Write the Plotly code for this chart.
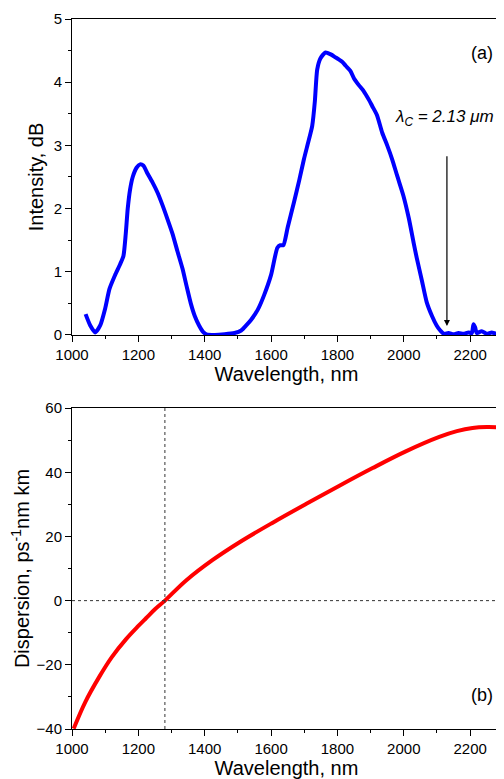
import plotly.graph_objs as go

# (a) transmission spectrum
wl_a = [1041, 1055, 1070, 1085, 1100, 1113, 1130, 1145, 1155, 1162, 1168, 1175, 1183,
        1195, 1205, 1215, 1228, 1243, 1258, 1273, 1288, 1303, 1318, 1333, 1345, 1358,
        1370, 1383, 1395, 1405, 1430, 1460, 1490, 1510, 1525, 1540, 1560, 1579, 1600,
        1619, 1628, 1637, 1650, 1669, 1685, 1699, 1712, 1724, 1732, 1739, 1749, 1764,
        1780, 1795, 1804, 1815, 1825, 1839, 1850, 1865, 1879, 1895, 1905, 1919, 1935,
        1950, 1965, 1980, 1999, 2015, 2030, 2039, 2055, 2069, 2085, 2099, 2110, 2120,
        2135, 2150, 2165, 2180, 2195, 2205, 2210, 2215, 2220, 2235, 2250, 2265, 2280, 2293]
intensity = [0.33, 0.15, 0.04, 0.15, 0.42, 0.73, 0.95, 1.12, 1.25, 1.6, 2.0, 2.3, 2.5,
             2.65, 2.7, 2.68, 2.55, 2.41, 2.25, 2.05, 1.83, 1.6, 1.32, 1.05, 0.78, 0.5,
             0.3, 0.15, 0.05, 0.01, 0.0, 0.01, 0.03, 0.07, 0.15, 0.24, 0.4, 0.63, 0.95,
             1.38, 1.42, 1.42, 1.7, 2.1, 2.45, 2.78, 3.05, 3.31, 3.7, 4.2, 4.38, 4.47,
             4.44, 4.39, 4.36, 4.32, 4.26, 4.18, 4.06, 3.95, 3.86, 3.72, 3.62, 3.48, 3.2,
             3.0, 2.78, 2.52, 2.2, 1.85, 1.45, 1.22, 0.85, 0.52, 0.3, 0.15, 0.07, 0.02,
             0.03, 0.01, 0.03, 0.02, 0.04, 0.03, 0.17, 0.12, 0.03, 0.06, 0.02, 0.04, 0.02, 0.03]

# (b) dispersion
wl_b = [1005, 1040, 1083, 1120, 1163, 1200, 1223, 1250, 1280, 1343, 1423, 1505, 1605,
        1705, 1806, 1906, 2006, 2107, 2160, 2207, 2250, 2293]
dispersion = [-39.9, -31.6, -23.6, -17.6, -12.0, -7.9, -5.5, -2.7, 0, 6.2, 12.6, 18.2, 24.3,
              30.1, 35.8, 41.3, 46.5, 51.0, 52.8, 53.8, 54.1, 54.0]

cutoff_wl = 2130
zero_disp_wl = 1280

font_fam = 'Liberation Sans, Arial, sans-serif'
tickfont = dict(family=font_fam, size=15, color='black')
titlefont = dict(family=font_fam, size=20, color='black')

def xax(anchor, dom_title):
    return dict(range=[1000, 2293], domain=[0, 1], anchor=anchor,
                tickvals=[1000, 1200, 1400, 1600, 1800, 2000, 2200],
                ticks='outside', ticklen=6, tickwidth=1, tickcolor='black',
                minor=dict(dtick=100, ticks='outside', ticklen=3, tickcolor='black'),
                showline=True, linecolor='black', linewidth=1, mirror=True,
                showgrid=False, zeroline=False, tickfont=tickfont,
                title=dict(text=dom_title, font=titlefont, standoff=4))

# page body adds an 8px offset, so the figure is sized to fit inside the window
layout = go.Layout(
    width=496, height=771,
    margin=dict(l=64, r=2, t=8, b=50),
    plot_bgcolor='white', paper_bgcolor='white',
    showlegend=False,
    xaxis=xax('y', 'Wavelength, nm'),
    yaxis=dict(range=[0, 5], domain=[0.555, 1], anchor='x', dtick=1,
               ticks='outside', ticklen=6, tickcolor='black',
               minor=dict(dtick=0.5, ticks='outside', ticklen=3, tickcolor='black'),
               showline=True, linecolor='black', linewidth=1, mirror=True,
               showgrid=False, zeroline=False, tickfont=tickfont,
               title=dict(text='Intensity, dB', font=titlefont, standoff=4)),
    xaxis2=xax('y2', 'Wavelength, nm'),
    yaxis2=dict(range=[-40, 60], domain=[0, 0.452], anchor='x2', dtick=20,
                ticks='outside', ticklen=6, tickcolor='black',
                minor=dict(dtick=10, ticks='outside', ticklen=3, tickcolor='black'),
                showline=True, linecolor='black', linewidth=1, mirror=True,
                showgrid=False, zeroline=False, tickfont=tickfont,
                title=dict(text='Dispersion, ps<sup>-1</sup>nm km', font=titlefont, standoff=6)),
    shapes=[
        dict(type='line', xref='x2', yref='y2 domain', x0=zero_disp_wl, x1=zero_disp_wl,
             y0=0, y1=1, line=dict(color='#333', width=1, dash='dot')),
        dict(type='line', xref='x2 domain', yref='y2', x0=0, x1=1, y0=0, y1=0,
             line=dict(color='#333', width=1, dash='dot')),
    ],
    annotations=[
        dict(x=cutoff_wl, y=0.14, ax=cutoff_wl, ay=2.85, xref='x', yref='y',
             axref='x', ayref='y', showarrow=True, arrowhead=2, arrowsize=1,
             arrowwidth=1.2, arrowcolor='black', text=''),
        dict(x=2122, y=3.44, xref='x', yref='y', showarrow=False,
             text='<i>λ<sub>C</sub> = 2.13 μm</i>',
             font=dict(family=font_fam, size=17, color='black')),
        dict(x=0.985, y=0.93, xref='x domain', yref='y domain', showarrow=False,
             xanchor='right', text='(a)', font=dict(family=font_fam, size=18, color='black')),
        dict(x=0.985, y=0.07, xref='x2 domain', yref='y2 domain', showarrow=False,
             xanchor='right', text='(b)', font=dict(family=font_fam, size=18, color='black')),
    ],
)

spec = go.Scatter(x=wl_a, y=intensity, mode='lines', xaxis='x', yaxis='y',
                  line=dict(color='#0000ff', width=4, shape='spline', smoothing=0.6))
disp = go.Scatter(x=wl_b, y=dispersion, mode='lines', xaxis='x2', yaxis='y2',
                  line=dict(color='#ff0000', width=4, shape='spline'))

fig = go.Figure(data=[spec, disp], layout=layout)
fig.write_html("out.html")
